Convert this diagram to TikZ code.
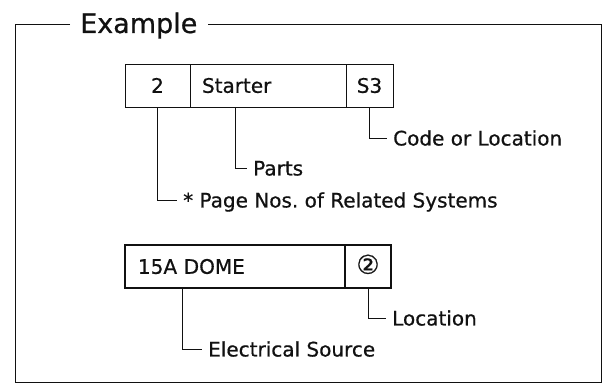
\documentclass[tikz,border=0pt]{standalone}
\usepackage{fontspec}
\setmainfont{DejaVu Sans}[FakeBold=0.6]
\usepackage{xcolor}
\usepackage{tikz}
\usetikzlibrary{positioning}
\definecolor{bg}{HTML}{FFFFFF}
\definecolor{ink}{HTML}{111111}
\tikzset{
  frame/.style={draw=ink, line width=0.9pt, line join=miter},
  cell/.style={draw=ink, line width=0.9pt, minimum height=43pt, inner sep=0pt,
    text height=14.6pt, text depth=0pt, font=\fontsize{20}{24}\selectfont, text=ink},
  bcell/.style={cell, line width=2.6pt},
  lead/.style={draw=ink, line width=0.7pt},
  lab/.style={text=ink, anchor=west, inner xsep=6pt, inner ysep=0pt,
    text height=15pt, text depth=0pt, font=\fontsize{20}{24}\selectfont},
  ttl/.style={text=ink, anchor=base west, inner xsep=10pt, font=\fontsize{27}{32}\selectfont},
}
\frenchspacing
\begin{document}
\begin{tikzpicture}[x=1pt,y=-1pt]
  \useasboundingbox[fill=bg] (0,0) rectangle (606,387);
  % frame with title
  \node[ttl] (title) at (70,33) {Example};
  \draw[frame] ([yshift=9pt]title.base west) -- (15,24) -- (15,382) -- (601,382)
    -- (601,24) -- ([yshift=9pt]title.base east);
  % upper row
  \node[cell, minimum width=65pt] (cnum) at (157.5,85.5) {2};
  \node[cell, text width=132pt, inner xsep=12pt, align=left] (cpart) at (268,85.5) {Starter};
  \node[cell, minimum width=47pt] (ccode) at (369.5,85.5) {S3};
  \node[lab] (pagenos) at (177,200) {* Page Nos. of Related Systems};
  \node[lab] (parts) at (247,168) {Parts};
  \node[lab] (code) at (387,138) {Code or Location};
  \draw[lead] (cnum.south) |- (pagenos.west);
  \draw[lead] ([xshift=46pt]cpart.south west) |- (parts.west);
  \draw[lead] (ccode.south) |- (code.west);
  % lower row
  \node[bcell, text width=194pt, inner xsep=13pt, align=left] (csrc) at (235,266.5) {15A DOME};
  \node[bcell, minimum width=46pt] (cloc) at (368,266.5) {\fontsize{26}{28}\selectfont ②};
  \node[lab] (loc) at (386,318) {Location};
  \node[lab] (elec) at (202,349) {Electrical Source};
  \draw[lead] ([xshift=59pt]csrc.south west) |- (elec.west);
  \draw[lead] (cloc.south) |- (loc.west);
\end{tikzpicture}
\end{document}
